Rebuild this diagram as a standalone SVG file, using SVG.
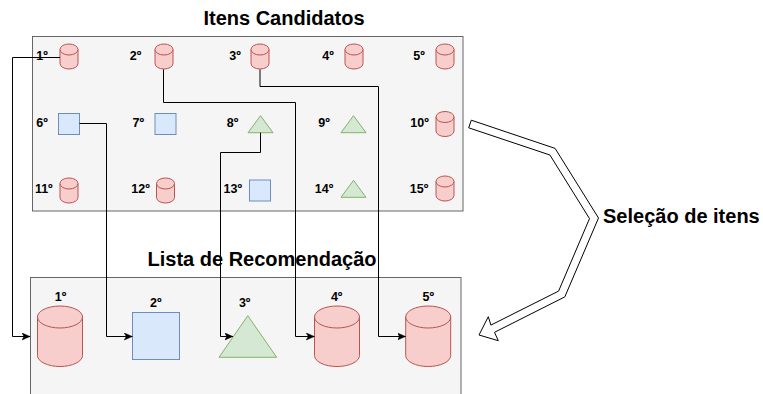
<svg xmlns="http://www.w3.org/2000/svg" xmlns:xlink="http://www.w3.org/1999/xlink" width="763" height="394" viewBox="0 0 763 394">
<style>
text{font-family:"Liberation Sans",Arial,Helvetica,sans-serif;font-weight:bold;fill:#000}
.title{font-size:20px}
.lbl{font-size:12.5px;text-anchor:middle}
.cont{fill:#f5f5f5;stroke:#666666;stroke-width:1}
.cyl{fill:#f8cecc;stroke:#b85450;stroke-width:1}
.sq{fill:#dae8fc;stroke:#6c8ebf;stroke-width:1}
.tri{fill:#d5e8d4;stroke:#82b366;stroke-width:1}
.edge{fill:none;stroke:#000;stroke-width:1;marker-end:url(#arr)}
.flex{fill:#fff;stroke:#000;stroke-width:1;stroke-linejoin:miter}
</style>
<defs>
<marker id="arr" markerUnits="userSpaceOnUse" markerWidth="10" markerHeight="8" refX="8" refY="3.5" orient="auto">
<path d="M0,0 L8,3.5 L0,7 L2,3.5 Z" fill="#000" stroke="#000" stroke-width="0.5"/>
</marker>
<g id="cylS">
<path class="cyl" d="M0,5.5 A9,5.5 0 0 1 18,5.5 L18,19.5 A9,5.5 0 0 1 0,19.5 Z"/>
<path class="cyl" d="M0,5.5 A9,5.5 0 0 0 18,5.5" fill="none"/>
</g>
<g id="cylL">
<path class="cyl" d="M0,11 A22.5,11 0 0 1 45,11 L45,49.5 A22.5,11 0 0 1 0,49.5 Z"/>
<path class="cyl" d="M0,11 A22.5,11 0 0 0 45,11" fill="none"/>
</g>
<rect id="sqS" class="sq" width="21" height="21"/>
<polygon id="triS" class="tri" points="0,17 12.5,0 25,17"/>
</defs>

<g id="candidatos">
<rect class="cont" x="32.5" y="36.5" width="430.5" height="174.5"/>
<text class="title" x="284" y="25" text-anchor="middle">Itens Candidatos</text>
</g>
<g id="lista">
<rect class="cont" x="30.5" y="277.5" width="430.5" height="130"/>
<text class="title" x="262" y="266" text-anchor="middle">Lista de Recomendação</text>
</g>

<g id="c1"><text class="lbl" x="42" y="60">1º</text><use xlink:href="#cylS" x="60" y="44"/></g>
<g id="c2"><text class="lbl" x="135.5" y="60">2º</text><use xlink:href="#cylS" x="155" y="44"/></g>
<g id="c3"><text class="lbl" x="235" y="60">3º</text><use xlink:href="#cylS" x="251" y="44"/></g>
<g id="c4"><text class="lbl" x="328" y="60">4º</text><use xlink:href="#cylS" x="345" y="44"/></g>
<g id="c5"><text class="lbl" x="419" y="60">5º</text><use xlink:href="#cylS" x="436" y="44"/></g>

<g id="c6"><text class="lbl" x="42" y="127">6º</text><use xlink:href="#sqS" x="58.5" y="113.5"/></g>
<g id="c7"><text class="lbl" x="138.3" y="127">7º</text><use xlink:href="#sqS" x="155" y="113.5"/></g>
<g id="c8"><text class="lbl" x="232.5" y="127">8º</text><use xlink:href="#triS" x="248" y="115.7"/></g>
<g id="c9"><text class="lbl" x="324" y="127">9º</text><use xlink:href="#triS" x="341" y="115.7"/></g>
<g id="c10"><text class="lbl" x="419.5" y="127">10º</text><use xlink:href="#cylS" x="436" y="111.5"/></g>

<g id="c11"><text class="lbl" x="43.8" y="193">11º</text><use xlink:href="#cylS" x="60" y="178"/></g>
<g id="c12"><text class="lbl" x="140.5" y="193">12º</text><use xlink:href="#cylS" x="156.5" y="178"/></g>
<g id="c13"><text class="lbl" x="232.8" y="193">13º</text><use xlink:href="#sqS" x="249.5" y="180"/></g>
<g id="c14"><text class="lbl" x="324" y="193">14º</text><use xlink:href="#triS" x="341" y="180.3"/></g>
<g id="c15"><text class="lbl" x="419" y="193">15º</text><use xlink:href="#cylS" x="436" y="176"/></g>

<g id="r1"><text class="lbl" x="60.5" y="301">1º</text><use xlink:href="#cylL" x="37.5" y="306"/></g>
<g id="r2"><text class="lbl" x="155.8" y="306.5">2º</text><rect class="sq" x="132.5" y="312.5" width="47" height="47"/></g>
<g id="r3"><text class="lbl" x="244.7" y="306.5">3º</text><polygon class="tri" points="219,357.3 247.8,315.7 276.7,357.3"/></g>
<g id="r4"><text class="lbl" x="336.7" y="301">4º</text><use xlink:href="#cylL" x="314.5" y="306"/></g>
<g id="r5"><text class="lbl" x="428.3" y="301">5º</text><use xlink:href="#cylL" x="405.7" y="306"/></g>

<g id="connectors">
<path class="edge" d="M60,57.5 L12.5,57.5 L12.5,336.5 L30,336.5"/>
<path class="edge" d="M163.5,69.5 L163.5,102.5 L295.5,102.5 L295.5,336.5 L314.3,336.5"/>
<path class="edge" d="M260,69.5 L260,86.5 L378.5,86.5 L378.5,336.5 L405.5,336.5"/>
<path class="edge" d="M79.5,123.5 L106.5,123.5 L106.5,336.5 L132.3,336.5"/>
<path class="edge" d="M260.5,132.7 L260.5,152.5 L220.5,152.5 L220.5,336.5 L232.8,336.5"/>
</g>

<g id="selecao">
<polygon class="flex" points="468.7,127.8 549.9,155 589.5,218.6 558.6,291.1 490.9,325.1 488.3,316.7 479,335 498.3,340.7 494.5,332.3 564.8,296.9 598.5,218 555.1,148.4 471.3,120.2"/>
<text class="title" x="603" y="223">Seleção de itens</text>
</g>
</svg>
